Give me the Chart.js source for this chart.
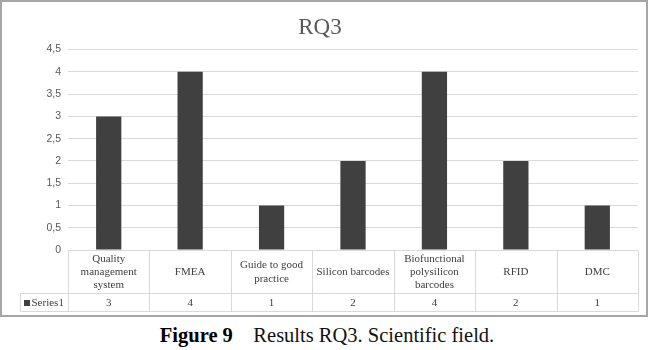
<!DOCTYPE html>
<html>
<head>
<meta charset="utf-8">
<script src="https://cdn.jsdelivr.net/npm/chart.js@4/dist/chart.umd.min.js"></script>
<style>
  html, body { margin: 0; padding: 0; background: #fff; }
  #page { position: relative; width: 650px; height: 350px; }
  #frame {
    position: absolute; left: 0; top: 0; width: 648px; height: 317px;
    box-sizing: border-box; border: 2px solid #a6a6a6; background: #fff;
  }
  #box { position: absolute; left: 0; top: 0; width: 644px; height: 313px; }
  #caption {
    position: absolute; left: 0; top: 324px; width: 654px; text-align: center;
    font-family: "Liberation Serif", "Times New Roman", serif; font-size: 20.5px; color: #111;
    white-space: pre;
  }
  #caption b { font-weight: bold; color: #000; }
</style>
</head>
<body>
<div id="page">
  <div id="frame"><div id="box"><canvas id="c"></canvas></div></div>
  <div id="caption"><b>Figure 9</b>    Results RQ3. Scientific field.</div>
</div>
<script>
// Categories (multi-line names are given as arrays of lines)
const categories = [
  ["Quality", "management", "system"],
  "FMEA",
  ["Guide to good", "practice"],
  "Silicon barcodes",
  ["Biofunctional", "polysilicon", "barcodes"],
  "RFID",
  "DMC"
];
const seriesName = "Series1";
const seriesValues = [3, 4, 1, 2, 4, 2, 1];
const yMax = 4.5;
const yStep = 0.5;

const BAR = '#404040';
const GRID = '#d9d9d9';
const TEXT = '#404040';
const SERIF = '"Liberation Serif", "Times New Roman", serif';

// Data table drawn under the plot: category row and value row
const dataTable = {
  id: 'dataTable',
  afterDraw(chart) {
    const ctx = chart.ctx;
    const x = chart.scales.x;
    const area = chart.chartArea;
    const n = categories.length;
    const step = x.getPixelForValue(1) - x.getPixelForValue(0);
    const left = x.getPixelForValue(0) - step / 2;
    const right = x.getPixelForValue(n - 1) + step / 2;
    const top = Math.round(area.bottom) + 0.5;
    const midY = top + 43;
    const botY = midY + 18;
    const labelLeft = 18.5;

    ctx.save();
    ctx.strokeStyle = GRID;
    ctx.lineWidth = 1;
    ctx.beginPath();
    // horizontal lines
    ctx.moveTo(left, top); ctx.lineTo(right, top);
    ctx.moveTo(labelLeft, midY); ctx.lineTo(right, midY);
    ctx.moveTo(labelLeft, botY); ctx.lineTo(right, botY);
    // vertical lines at category boundaries
    for (let i = 0; i <= n; i++) {
      const px = Math.round(left + i * step) + 0.5;
      ctx.moveTo(px, top); ctx.lineTo(px, botY);
    }
    ctx.moveTo(labelLeft, midY); ctx.lineTo(labelLeft, botY);
    ctx.stroke();

    // category names
    ctx.fillStyle = TEXT;
    ctx.font = '11px ' + SERIF;
    ctx.textAlign = 'center';
    ctx.textBaseline = 'middle';
    const lh = 13.3;
    categories.forEach((c, i) => {
      const lines = Array.isArray(c) ? c : [c];
      const cx = x.getPixelForValue(i);
      const cy = (top + midY) / 2;
      const y0 = cy - (lines.length - 1) * lh / 2;
      lines.forEach((ln, k) => ctx.fillText(ln, cx, y0 + k * lh));
    });

    // value row
    const rowY = (midY + botY) / 2 + 0.5;
    seriesValues.forEach((v, i) => {
      ctx.fillText(String(v), x.getPixelForValue(i), rowY);
    });

    // legend key + series name
    ctx.fillStyle = BAR;
    ctx.fillRect(22, rowY - 3, 6, 6);
    ctx.fillStyle = TEXT;
    ctx.textAlign = 'left';
    ctx.fillText(seriesName, 29.5, rowY);
    ctx.restore();
  }
};

new Chart(document.getElementById('c'), {
  type: 'bar',
  data: {
    labels: categories,
    datasets: [{
      label: seriesName,
      data: seriesValues,
      backgroundColor: BAR,
      borderWidth: 0,
      barPercentage: 0.31,
      categoryPercentage: 1
    }]
  },
  options: {
    responsive: true,
    maintainAspectRatio: false,
    animation: false,
    events: [],
    layout: { padding: { left: 0, right: 8, top: 0, bottom: 65 } },
    plugins: {
      legend: { display: false },
      tooltip: { enabled: false },
      title: {
        display: true,
        text: 'RQ3',
        color: '#595959',
        font: { family: SERIF, size: 23, weight: 'normal' },
        padding: { top: 12, bottom: 8 }
      }
    },
    scales: {
      x: { display: false },
      y: {
        min: 0,
        max: yMax,
        afterFit(scale) { scale.width = 66; },
        border: { display: false },
        grid: { color: GRID, lineWidth: 1, drawTicks: false },
        ticks: {
          stepSize: yStep,
          padding: 7,
          color: '#595959',
          font: { family: '"Liberation Sans", Arial, sans-serif', size: 10.5 },
          callback: (v) => String(v).replace('.', ',')
        }
      }
    }
  },
  plugins: [dataTable]
});
</script>
</body>
</html>
